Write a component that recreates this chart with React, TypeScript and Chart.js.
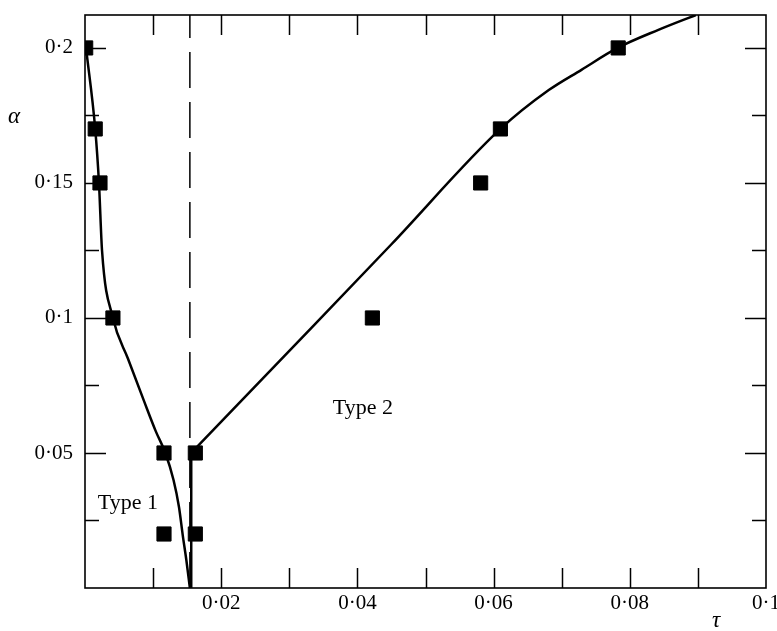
import React, { useEffect, useRef } from "react";
import { Chart, registerables } from "chart.js";

Chart.register(...registerables);

// ---- data ----
const markerTau = [0.0001, 0.0015, 0.0022, 0.0041, 0.0116, 0.0116, 0.0162, 0.0162, 0.0422, 0.0581, 0.061, 0.0783];
const markerAlpha = [0.2, 0.17, 0.15, 0.1, 0.05, 0.02, 0.05, 0.02, 0.1, 0.15, 0.17, 0.2];

const leftCurveTau = [0.00015, 0.0015, 0.00205, 0.0025, 0.0041, 0.0063, 0.0087, 0.0104, 0.0118, 0.013, 0.0138, 0.01435, 0.0149, 0.0154];
const leftCurveAlpha = [0.2, 0.17, 0.15, 0.125, 0.1, 0.085, 0.069, 0.058, 0.05, 0.04, 0.03, 0.0196, 0.01, 0];

const verticalTau = [0.0156, 0.0156];
const verticalAlpha = [0, 0.05];

const rightCurveTau = [0.0156, 0.03, 0.045, 0.061, 0.0681, 0.0729, 0.0782, 0.0842, 0.0897];
const rightCurveAlpha = [0.05, 0.0878, 0.1273, 0.17, 0.1844, 0.1919, 0.2, 0.2067, 0.2122];

const dashedTau = [0.0154, 0.0154];
const dashedAlpha = [0, 0.2122];

const xTickValues = [0.01, 0.02, 0.03, 0.04, 0.05, 0.06, 0.07, 0.08, 0.09];
const xLabelValues = [0.02, 0.04, 0.06, 0.08, 0.1];
const xLabelTexts = ["0·02", "0·04", "0·06", "0·08", "0·1"];

const yTickValues = [0.025, 0.05, 0.075, 0.1, 0.125, 0.15, 0.175, 0.2];
const yLabelValues = [0.05, 0.1, 0.15, 0.2];
const yLabelTexts = ["0·05", "0·1", "0·15", "0·2"];

const regionLabels = ["Type 1", "Type 2"];
const regionTau = [0.0063, 0.0408];
const regionAlpha = [0.0315, 0.0667];

const X_MAX = 0.1;
const Y_MAX = 0.2122;

const pts = (xs: number[], ys: number[]) => xs.map((x, i) => ({ x, y: ys[i] }));

const findLabel = (v: number, vals: number[], texts: string[]) => {
  const i = vals.findIndex((t) => Math.abs(t - v) < 1e-6);
  return i >= 0 ? texts[i] : "";
};

const SERIF = "'Liberation Serif', 'DejaVu Serif', serif";

const framePlugin = {
  id: "frame",
  afterDatasetsDraw(chart: any) {
    const { ctx, chartArea: a, scales } = chart;
    const xs = scales.x;
    const ys = scales.y;
    ctx.save();
    ctx.strokeStyle = "#000";
    ctx.lineWidth = 1.6;
    ctx.strokeRect(a.left, a.top, a.right - a.left, a.bottom - a.top);
    ctx.lineWidth = 1.5;
    ctx.beginPath();
    xTickValues.forEach((v) => {
      const px = Math.round(xs.getPixelForValue(v)) + 0.5;
      ctx.moveTo(px, a.bottom);
      ctx.lineTo(px, a.bottom - 20);
      ctx.moveTo(px, a.top);
      ctx.lineTo(px, a.top + 20);
    });
    yTickValues.forEach((v) => {
      const py = Math.round(ys.getPixelForValue(v)) + 0.5;
      const major = Math.abs(Math.round(v / 0.05) * 0.05 - v) < 1e-6;
      const len = major ? 21 : 14;
      ctx.moveTo(a.left, py);
      ctx.lineTo(a.left + len, py);
      ctx.moveTo(a.right, py);
      ctx.lineTo(a.right - len, py);
    });
    ctx.stroke();

    ctx.fillStyle = "#000";
    ctx.textAlign = "center";
    ctx.textBaseline = "middle";
    ctx.font = `22px ${SERIF}`;
    regionLabels.forEach((t, i) => {
      ctx.fillText(t, xs.getPixelForValue(regionTau[i]), ys.getPixelForValue(regionAlpha[i]));
    });
    ctx.font = `italic 23px ${SERIF}`;
    ctx.fillText("α", 14, 117);
    ctx.fillText("τ", 716, 621);
    ctx.restore();
  },
};

export default function App() {
  const ref = useRef<HTMLCanvasElement | null>(null);
  useEffect(() => {
    if (!ref.current) return;
    const chart = new Chart(ref.current, {
      type: "scatter",
      data: {
        datasets: [
          {
            data: pts(dashedTau, dashedAlpha),
            showLine: true,
            borderColor: "#000",
            borderWidth: 1.5,
            borderDash: [36, 14],
            pointRadius: 0,
          },
          {
            data: pts(leftCurveTau, leftCurveAlpha),
            showLine: true,
            borderColor: "#000",
            borderWidth: 2.5,
            cubicInterpolationMode: "monotone",
            pointRadius: 0,
          },
          {
            data: pts(verticalTau, verticalAlpha),
            showLine: true,
            borderColor: "#000",
            borderWidth: 2.5,
            pointRadius: 0,
          },
          {
            data: pts(rightCurveTau, rightCurveAlpha),
            showLine: true,
            borderColor: "#000",
            borderWidth: 2.5,
            cubicInterpolationMode: "monotone",
            pointRadius: 0,
          },
          {
            data: pts(markerTau, markerAlpha),
            showLine: false,
            pointStyle: "rect",
            pointRadius: 10,
            pointBackgroundColor: "#000",
            pointBorderColor: "#000",
            pointBorderWidth: 1,
          },
        ],
      },
      options: {
        responsive: false,
        animation: false,
        devicePixelRatio: 1,
        layout: { padding: { left: 0, top: 15, right: 9, bottom: 0 } },
        plugins: { legend: { display: false }, tooltip: { enabled: false } },
        scales: {
          x: {
            type: "linear",
            min: 0,
            max: X_MAX,
            grid: { display: false, drawTicks: false },
            border: { display: false },
            afterFit: (s: any) => {
              s.height = 43;
              s.paddingLeft = 0;
              s.paddingRight = 0;
            },
            afterBuildTicks: (s: any) => {
              s.ticks = xLabelValues.map((v) => ({ value: v }));
            },
            ticks: {
              autoSkip: false,
              maxRotation: 0,
              padding: 3,
              color: "#000",
              font: { family: SERIF, size: 21 },
              callback: (v: any) => findLabel(Number(v), xLabelValues, xLabelTexts),
            },
          },
          y: {
            type: "linear",
            min: 0,
            max: Y_MAX,
            grid: { display: false, drawTicks: false },
            border: { display: false },
            afterFit: (s: any) => {
              s.width = 85;
              s.paddingTop = 0;
              s.paddingBottom = 0;
            },
            afterBuildTicks: (s: any) => {
              s.ticks = yLabelValues.map((v) => ({ value: v }));
            },
            ticks: {
              autoSkip: false,
              padding: 12,
              color: "#000",
              font: { family: SERIF, size: 21 },
              callback: (v: any) => findLabel(Number(v), yLabelValues, yLabelTexts),
            },
          },
        },
      },
      plugins: [framePlugin],
    });
    return () => chart.destroy();
  }, []);
  return (
    <div style={{ position: "absolute", left: 0, top: 0, width: 777, height: 631, background: "#fff" }}>
      <canvas ref={ref} width={777} height={631} />
    </div>
  );
}
